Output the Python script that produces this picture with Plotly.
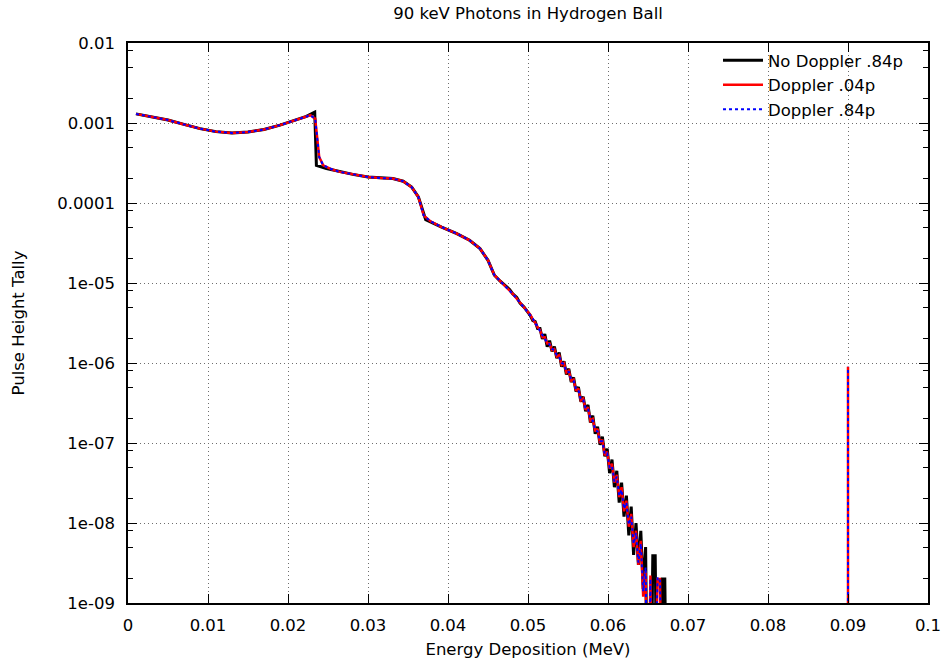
import plotly.graph_objects as go

# ---------------- data ----------------
title_text = "90 keV Photons in Hydrogen Ball"
series_names = ["No Doppler .84p", "Doppler .04p", "Doppler .84p"]

x_tick_vals = [0, 0.01, 0.02, 0.03, 0.04, 0.05, 0.06, 0.07, 0.08, 0.09, 0.1]
x_tick_text = ["0", "0.01", "0.02", "0.03", "0.04", "0.05", "0.06", "0.07", "0.08", "0.09", "0.1"]
y_tick_vals = [1e-9, 1e-8, 1e-7, 1e-6, 1e-5, 1e-4, 1e-3, 1e-2]
y_tick_text = ["1e-09", "1e-08", "1e-07", "1e-06", "1e-05", "0.0001", "0.001", "0.01"]
y_minor_vals = [m * 10.0 ** e for e in range(-9, -2) for m in (2, 5, 8)]

# No Doppler .84p (sharp Compton edges, larger statistical noise)
nodop_x = [0.001, 0.003, 0.005, 0.007, 0.009, 0.011, 0.013, 0.015, 0.017, 0.019, 0.021,
           0.0223, 0.02334, 0.02355, 0.0248, 0.0265, 0.0281, 0.030, 0.0316, 0.0331, 0.0344,
           0.03546, 0.0363, 0.03667, 0.03721, 0.0392, 0.0411, 0.0427, 0.044, 0.045, 0.0458,
           0.0465, 0.0470, 0.0473, 0.0477, 0.0481, 0.0486, 0.0490, 0.0495, 0.0500,
           0.0503, 0.0506, 0.0509, 0.0512, 0.0515, 0.0518, 0.0521, 0.0524, 0.0527, 0.0530,
           0.0533, 0.0536, 0.0539, 0.0542, 0.0545, 0.0548, 0.0551, 0.0554, 0.0557, 0.0560,
           0.0563, 0.0566, 0.0569, 0.0572, 0.0575, 0.0578, 0.0581, 0.0584, 0.0587, 0.0590,
           0.0593, 0.0596, 0.0599, 0.0602, 0.0605, 0.0608, 0.0611, 0.0614, 0.0617, 0.0620,
           0.0623, 0.0626, 0.0629, 0.0632, 0.0635, 0.0638, 0.0641, 0.0644, 0.0647, 0.0650,
           0.0653, 0.0656, 0.0659, 0.0662, 0.0665, 0.0668, 0.0671, 0.0674]
nodop_y = [1.30e-3, 1.19e-3, 1.09e-3, 0.96e-3, 0.85e-3, 0.78e-3, 0.75e-3, 0.77e-3, 0.83e-3, 0.94e-3, 1.10e-3,
           1.21e-3, 1.37e-3, 2.96e-4, 2.70e-4, 2.45e-4, 2.28e-4, 2.11e-4, 2.05e-4, 2.02e-4, 1.87e-4,
           1.58e-4, 1.19e-4, 8.9e-5, 6.2e-5, 5.0e-5, 4.15e-5, 3.42e-5, 2.69e-5, 1.92e-5, 1.25e-5,
           1.06e-5, 9.6e-6, 8.9e-6, 8.3e-6, 7.3e-6, 6.6e-6, 5.6e-6, 5.0e-6, 4.3e-6,
           3.9e-6, 3.4e-6, 3.3e-6, 2.7e-6, 2.7e-6, 2.0e-6, 2.3e-6, 1.6e-6, 1.9e-6, 1.4e-6,
           1.6e-6, 1.15e-6, 1.35e-6, 0.90e-6, 1.05e-6, 0.72e-6, 0.85e-6, 0.58e-6, 0.66e-6, 0.44e-6,
           0.50e-6, 0.33e-6, 0.38e-6, 0.25e-6, 0.30e-6, 0.18e-6, 0.22e-6, 0.13e-6, 0.16e-6, 9.5e-8,
           1.2e-7, 6.8e-8, 8.5e-8, 4.2e-8, 6.2e-8, 2.8e-8, 4.5e-8, 1.8e-8, 3.2e-8, 1.2e-8,
           2.2e-8, 7.0e-9, 1.6e-8, 4.0e-9, 1.0e-8, 3.0e-9, 8.0e-9, 1.5e-9, 5.0e-9, 1e-11,
           1e-11, 3.9e-9, 3.9e-9, 1e-11, 1e-11, 2.0e-9, 2.0e-9, 1e-11]

# Doppler .04p (smoothed edges)
dop04_x = [0.001, 0.003, 0.005, 0.007, 0.009, 0.011, 0.013, 0.015, 0.017, 0.019, 0.021,
           0.0223, 0.0228, 0.0234, 0.02366, 0.0239, 0.0244, 0.0256, 0.0265, 0.0281, 0.030, 0.0316,
           0.0331, 0.0344, 0.03546, 0.0363, 0.03667, 0.03696, 0.03775, 0.0392, 0.0411, 0.0427,
           0.044, 0.045, 0.0458, 0.0465, 0.0473, 0.0481, 0.0490, 0.0500,
           0.0503, 0.0506, 0.0509, 0.0512, 0.0515, 0.0518, 0.0521, 0.0524, 0.0527, 0.0530,
           0.0533, 0.0536, 0.0539, 0.0542, 0.0545, 0.0548, 0.0551, 0.0554, 0.0557, 0.0560,
           0.0563, 0.0566, 0.0569, 0.0572, 0.0575, 0.0578, 0.0581, 0.0584, 0.0587, 0.0590,
           0.0593, 0.0596, 0.0599, 0.0602, 0.0605, 0.0608, 0.0611, 0.0614, 0.0617, 0.0620,
           0.0623, 0.0626, 0.0629, 0.0632, 0.0635, 0.0638, 0.0641, 0.0644, 0.0647, 0.0650,
           0.0653, 0.0656, 0.0662, 0.0665, 0.0668,
           None, 0.0900, 0.0900]
dop04_y = [1.30e-3, 1.19e-3, 1.09e-3, 0.96e-3, 0.85e-3, 0.78e-3, 0.75e-3, 0.77e-3, 0.83e-3, 0.94e-3, 1.10e-3,
           1.21e-3, 1.25e-3, 1.13e-3, 6.1e-4, 3.76e-4, 2.96e-4, 2.60e-4, 2.45e-4, 2.28e-4, 2.11e-4, 2.05e-4,
           2.02e-4, 1.87e-4, 1.58e-4, 1.19e-4, 8.9e-5, 7.0e-5, 5.95e-5, 5.0e-5, 4.15e-5, 3.42e-5,
           2.69e-5, 1.92e-5, 1.25e-5, 1.06e-5, 9.0e-6, 7.3e-6, 5.7e-6, 4.3e-6,
           4.0e-6, 3.5e-6, 3.2e-6, 2.8e-6, 2.6e-6, 2.1e-6, 2.1e-6, 1.75e-6, 1.75e-6, 1.45e-6,
           1.5e-6, 1.2e-6, 1.25e-6, 0.95e-6, 1.0e-6, 0.76e-6, 0.80e-6, 0.60e-6, 0.62e-6, 0.45e-6,
           0.48e-6, 0.34e-6, 0.36e-6, 0.26e-6, 0.28e-6, 0.19e-6, 0.20e-6, 0.14e-6, 0.15e-6, 1.0e-7,
           1.1e-7, 7.0e-8, 7.8e-8, 4.8e-8, 5.5e-8, 3.2e-8, 4.0e-8, 2.1e-8, 2.8e-8, 1.4e-8,
           1.9e-8, 9.0e-9, 1.3e-8, 5.0e-9, 8.0e-9, 3.0e-9, 6.0e-9, 1.2e-9, 2.5e-9, 1e-11,
           2.2e-9, 1e-11, 2.0e-9, 2.0e-9, 1e-11,
           None, 1e-11, 9.0e-7]

# Doppler .84p (nearly identical to .04p)
dop84_x = [0.001, 0.003, 0.005, 0.007, 0.009, 0.011, 0.013, 0.015, 0.017, 0.019, 0.021,
           0.0223, 0.0228, 0.0234, 0.02366, 0.0239, 0.0244, 0.0256, 0.0265, 0.0281, 0.030, 0.0316,
           0.0331, 0.0344, 0.03546, 0.0363, 0.03667, 0.03696, 0.03775, 0.0392, 0.0411, 0.0427,
           0.044, 0.045, 0.0458, 0.0465, 0.0473, 0.0481, 0.0490, 0.0500,
           0.0503, 0.0506, 0.0509, 0.0512, 0.0515, 0.0518, 0.0521, 0.0524, 0.0527, 0.0530,
           0.0533, 0.0536, 0.0539, 0.0542, 0.0545, 0.0548, 0.0551, 0.0554, 0.0557, 0.0560,
           0.0563, 0.0566, 0.0569, 0.0572, 0.0575, 0.0578, 0.0581, 0.0584, 0.0587, 0.0590,
           0.0593, 0.0596, 0.0599, 0.0602, 0.0605, 0.0608, 0.0611, 0.0614, 0.0617, 0.0620,
           0.0623, 0.0626, 0.0629, 0.0632, 0.0635, 0.0638, 0.0641, 0.0644, 0.0647, 0.0650,
           0.0653, 0.0656, 0.0662, 0.0665, 0.0668,
           None, 0.0900, 0.0900]
dop84_y = [1.30e-3, 1.19e-3, 1.09e-3, 0.96e-3, 0.85e-3, 0.78e-3, 0.75e-3, 0.77e-3, 0.83e-3, 0.94e-3, 1.10e-3,
           1.21e-3, 1.25e-3, 1.13e-3, 6.1e-4, 3.76e-4, 2.96e-4, 2.60e-4, 2.45e-4, 2.28e-4, 2.11e-4, 2.05e-4,
           2.02e-4, 1.87e-4, 1.58e-4, 1.19e-4, 8.9e-5, 7.0e-5, 5.95e-5, 5.0e-5, 4.15e-5, 3.42e-5,
           2.69e-5, 1.92e-5, 1.25e-5, 1.06e-5, 9.0e-6, 7.3e-6, 5.7e-6, 4.3e-6,
           3.9e-6, 3.6e-6, 3.1e-6, 2.9e-6, 2.5e-6, 2.2e-6, 2.0e-6, 1.8e-6, 1.7e-6, 1.5e-6,
           1.45e-6, 1.25e-6, 1.2e-6, 1.0e-6, 0.97e-6, 0.78e-6, 0.78e-6, 0.62e-6, 0.6e-6, 0.47e-6,
           0.46e-6, 0.35e-6, 0.35e-6, 0.27e-6, 0.27e-6, 0.2e-6, 0.19e-6, 0.145e-6, 0.14e-6, 1.05e-7,
           1.05e-7, 7.2e-8, 7.4e-8, 5.0e-8, 5.2e-8, 3.3e-8, 3.8e-8, 2.2e-8, 2.6e-8, 1.5e-8,
           1.8e-8, 9.5e-9, 1.2e-8, 5.5e-9, 7.5e-9, 3.2e-9, 5.5e-9, 1.4e-9, 2.8e-9, 1e-11,
           2.0e-9, 1e-11, 2.1e-9, 1.9e-9, 1e-11,
           None, 1e-11, 9.0e-7]

# ---------------- figure ----------------
FONT = "DejaVu Sans"
FS = 16.5
fig = go.Figure()
fig.add_trace(go.Scatter(x=nodop_x, y=nodop_y, mode="lines", name=series_names[0],
                         line=dict(color="black", width=3)))
fig.add_trace(go.Scatter(x=dop04_x, y=dop04_y, mode="lines", name=series_names[1],
                         line=dict(color="red", width=2.5)))
fig.add_trace(go.Scatter(x=dop84_x, y=dop84_y, mode="lines", name=series_names[2],
                         line=dict(color="blue", width=2, dash="dot")))

grid_color = "rgb(110,110,110)"
fig.update_layout(
    width=946, height=667,
    margin=dict(l=128, r=18, t=43, b=64, autoexpand=False),
    paper_bgcolor="white", plot_bgcolor="white",
    font=dict(family=FONT, size=FS, color="black"),
    title=dict(text=title_text, x=0.5, xref="paper", y=1 - 13 / 667, yref="container",
               xanchor="center", yanchor="middle", font=dict(family=FONT, size=FS, color="black")),
    showlegend=True,
    legend=dict(x=0.975, y=1.0, xanchor="right", yanchor="top", bgcolor="rgba(0,0,0,0)",
                font=dict(family=FONT, size=FS, color="black"), tracegroupgap=0,
                itemwidth=40),
    xaxis=dict(range=[0, 0.1], tickmode="array", tickvals=x_tick_vals, ticktext=x_tick_text,
               ticks="inside", ticklen=9, tickwidth=1, tickcolor="black",
               showline=True, linecolor="black", linewidth=1.5, mirror="ticks",
               showgrid=True, gridcolor=grid_color, gridwidth=1, griddash="1px,3px",
               zeroline=False, ticklabelstandoff=6,
               title=dict(text="Energy Deposition (MeV)", standoff=10,
                          font=dict(family=FONT, size=FS, color="black"))),
    yaxis=dict(type="log", range=[-9, -2], tickmode="array", tickvals=y_tick_vals, ticktext=y_tick_text,
               ticks="inside", ticklen=9, tickwidth=1, tickcolor="black",
               showline=True, linecolor="black", linewidth=1.5, mirror="ticks",
               showgrid=True, gridcolor=grid_color, gridwidth=1, griddash="1px,3px",
               zeroline=False, ticklabelstandoff=8,
               minor=dict(tickmode="array", tickvals=y_minor_vals, ticks="inside", ticklen=5,
                          tickcolor="black", tickwidth=1, showgrid=False),
               title=dict(text="Pulse Height Tally", standoff=28,
                          font=dict(family=FONT, size=FS, color="black"))),
)

fig.write_html("out.html")
